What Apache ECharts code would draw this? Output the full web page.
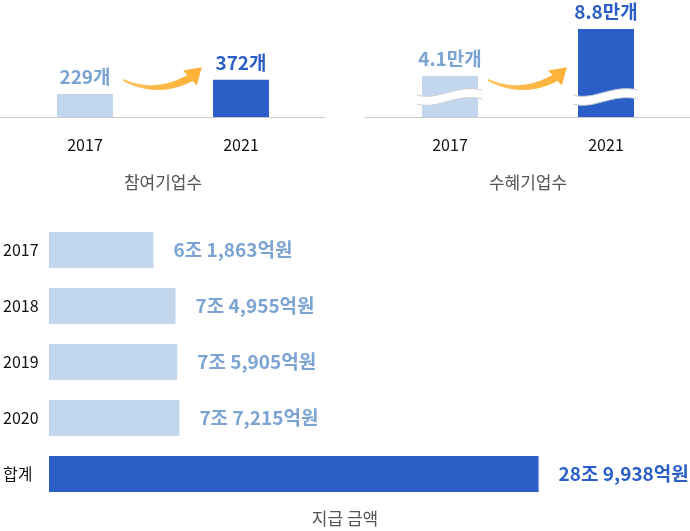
<!DOCTYPE html>
<html><head><meta charset="utf-8">
<script src="https://cdn.jsdelivr.net/npm/echarts@6/dist/echarts.min.js"></script>
<style>html,body{margin:0;padding:0;background:#fff}#c{width:690px;height:531px}</style>
</head><body><div id="c"></div>
<script>
const topCategories = ['2017', '2021'];
const participants = [229, 372];
const participantLabels = ['229개', '372개'];
const beneficiaries = [4.1, 8.8];
const beneficiaryLabels = ['4.1만개', '8.8만개'];
const payYears = ['2017', '2018', '2019', '2020', '합계'];
const payAmounts = [61863, 74955, 75905, 77215, 289938]; // 억원
const titles = ['참여기업수', '수혜기업수', '지급 금액'];

const LIGHT = '#C2D7EE', DARK = '#2B5FC7', LIGHT_TXT = '#7BA3D3';
const FONT = '"Noto Sans CJK KR", "Noto Sans", sans-serif';

function fmt(v) {
  const jo = Math.floor(v / 10000), eok = v % 10000;
  const s = String(eok).replace(/\B(?=(\d{3})+(?!\d))/g, ',');
  return jo + '조 ' + s + '억원';
}
function items(vals) {
  return vals.map((v, i) => ({
    value: v,
    itemStyle: { color: i === vals.length - 1 ? DARK : LIGHT },
    label: { color: i === vals.length - 1 ? DARK : LIGHT_TXT }
  }));
}
const topLabel = (arr) => ({
  show: true, position: 'top', distance: 8, fontSize: 19, fontWeight: 'bold', fontFamily: FONT,
  formatter: p => arr[p.dataIndex]
});
const catAxis = (g) => ({
  gridIndex: g, type: 'category', data: topCategories,
  axisLine: { show: false }, axisTick: { show: false },
  axisLabel: { margin: 20, fontSize: 16, color: '#111', fontFamily: FONT }
});

const chart = echarts.init(document.getElementById('c'), null, { renderer: 'canvas' });
chart.setOption({
  animation: false,
  textStyle: { fontFamily: FONT },
  grid: [
    { left: 7, top: 17, width: 312, height: 100 },
    { left: 372, top: 17, width: 312, height: 100 },
    { left: 46, top: 222, width: 594, height: 280 }
  ],
  xAxis: [
    catAxis(0), catAxis(1),
    { gridIndex: 2, type: 'value', min: 0, max: 350000, show: false }
  ],
  yAxis: [
    { gridIndex: 0, type: 'value', min: 0, max: 1000, show: false },
    { gridIndex: 1, type: 'value', min: 0, max: 10, show: false },
    { gridIndex: 2, type: 'category', data: payYears, inverse: true,
      axisLine: { show: false }, axisTick: { show: false },
      axisLabel: { margin: 46, align: 'left', fontSize: 16, color: '#111', fontFamily: FONT } }
  ],
  series: [
    { type: 'bar', xAxisIndex: 0, yAxisIndex: 0, barWidth: 56, data: items(participants), label: topLabel(participantLabels) },
    { type: 'bar', xAxisIndex: 1, yAxisIndex: 1, barWidth: 56, data: items(beneficiaries), label: topLabel(beneficiaryLabels) },
    { type: 'bar', xAxisIndex: 2, yAxisIndex: 2, barWidth: 36, data: items(payAmounts),
      label: { show: true, position: 'right', distance: 20, fontSize: 19, fontWeight: 'bold', fontFamily: FONT,
        formatter: p => fmt(p.value) } }
  ]
});

// helpers for sampled curves
function quad(a, c, b, n) {
  const pts = [];
  for (let i = 0; i <= n; i++) {
    const t = i / n, u = 1 - t;
    pts.push([u * u * a[0] + 2 * u * t * c[0] + t * t * b[0], u * u * a[1] + 2 * u * t * c[1] + t * t * b[1]]);
  }
  return pts;
}
function cubic(a, c1, c2, b, n) {
  const pts = [];
  for (let i = 0; i <= n; i++) {
    const t = i / n, u = 1 - t;
    pts.push([
      u*u*u*a[0] + 3*u*u*t*c1[0] + 3*u*t*t*c2[0] + t*t*t*b[0],
      u*u*u*a[1] + 3*u*u*t*c1[1] + 3*u*t*t*c2[1] + t*t*t*b[1]]);
  }
  return pts;
}

const g = [];
[0, 1].forEach(k => {
  const p0 = chart.convertToPixel({ xAxisIndex: k, yAxisIndex: k }, [0, 0]);
  const p1 = chart.convertToPixel({ xAxisIndex: k, yAxisIndex: k }, [1, 0]);
  const base = p0[1], mid = (p0[0] + p1[0]) / 2;
  g.push({ type: 'line', z: 1, shape: { x1: mid - 163, y1: base + 0.5, x2: mid + 162, y2: base + 0.5 }, style: { stroke: '#C9C9C9', lineWidth: 1 } });
  g.push({ type: 'text', x: mid, y: base + 66, style: { text: titles[k], align: 'center', verticalAlign: 'middle', fontSize: 17, fill: '#555', fontFamily: FONT } });
  const P = (x, y) => [mid + x, base + y];
  const topEdge = quad(P(-40, -38), P(-8, -24), P(24.3, -41.9), 24);
  const botEdge = quad(P(29.7, -36.1), P(-5, -18), P(-40, -36), 24);
  const pts = topEdge.concat([P(20, -46.4), P(38.8, -49.8), P(33.8, -31.6)]).concat(botEdge);
  g.push({ type: 'polygon', z: 10, shape: { points: pts },
    style: { fill: new echarts.graphic.LinearGradient(0, 0, 1, 0, [{ offset: 0, color: '#FFC25A' }, { offset: 1, color: '#FDB035' }]) } });
});
[0, 1].forEach(i => {
  const p = chart.convertToPixel({ xAxisIndex: 1, yAxisIndex: 1 }, [i, 0]);
  const x0 = p[0] - 33, b = p[1];
  const top = cubic([x0, b - 22], [x0 + 22, b - 16], [x0 + 38, b - 33], [x0 + 65, b - 27], 30);
  const bot = cubic([x0, b - 13], [x0 + 22, b - 7], [x0 + 38, b - 24], [x0 + 65, b - 18], 30);
  g.push({ type: 'polygon', z: 20, shape: { points: top.concat(bot.slice().reverse()) }, style: { fill: '#fff' } });
  g.push({ type: 'polyline', z: 21, shape: { points: top }, style: { stroke: '#C8CDD4', lineWidth: 1, fill: null } });
  g.push({ type: 'polyline', z: 21, shape: { points: bot }, style: { stroke: '#C8CDD4', lineWidth: 1, fill: null } });
});
const gb = chart.convertToPixel({ xAxisIndex: 2, yAxisIndex: 2 }, [0, 4]);
g.push({ type: 'text', x: 345, y: gb[1] + 45, style: { text: titles[2], align: 'center', verticalAlign: 'middle', fontSize: 17, fill: '#555', fontFamily: FONT } });
chart.setOption({ graphic: g });
</script>
</body></html>
